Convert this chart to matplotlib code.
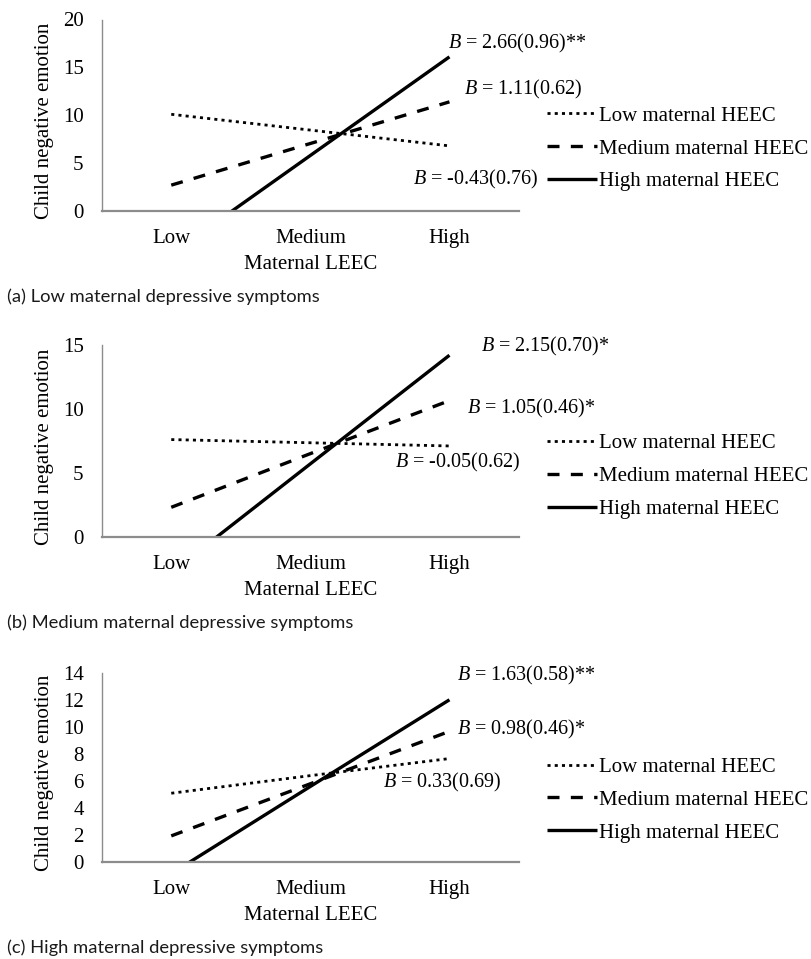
import matplotlib
matplotlib.use("Agg")
import matplotlib.pyplot as plt

plt.rcParams['font.family'] = ['Liberation Serif', 'DejaVu Serif']
plt.rcParams['mathtext.fontset'] = 'custom'
plt.rcParams['mathtext.rm'] = 'Liberation Serif'
plt.rcParams['mathtext.it'] = 'Liberation Serif:italic'

# ---- data ----
categories = ['Low', 'Medium', 'High']
series_labels = ['Low maternal HEEC', 'Medium maternal HEEC', 'High maternal HEEC']

low_heec_a = [10.1, 8.45, 6.8]
med_heec_a = [2.7, 7.05, 11.4]
high_heec_a = [-4.5, 5.8, 16.1]

low_heec_b = [7.6, 7.35, 7.1]
med_heec_b = [2.3, 6.5, 10.65]
high_heec_b = [-2.8, 5.7, 14.2]

low_heec_c = [5.1, 6.4, 7.66]
med_heec_c = [1.95, 5.8, 9.67]
high_heec_c = [-0.84, 5.6, 12.0]

slope_labels_a = ['-0.43(0.76)', '1.11(0.62)', '2.66(0.96)**']
slope_labels_b = ['-0.05(0.62)', '1.05(0.46)*', '2.15(0.70)*']
slope_labels_c = ['0.33(0.69)', '0.98(0.46)*', '1.63(0.58)**']

yticks_a = [0, 5, 10, 15, 20]
yticks_b = [0, 5, 10, 15]
yticks_c = [0, 2, 4, 6, 8, 10, 12, 14]

captions = ['(a) Low maternal depressive symptoms',
            '(b) Medium maternal depressive symptoms',
            '(c) High maternal depressive symptoms']

x_title = 'Maternal LEEC'
y_title = 'Child negative emotion'

# ---- layout ----
W, H = 811, 959
fig = plt.figure(figsize=(W / 100, H / 100), dpi=100)

left_px, right_px = 101.7, 519.0
panels = [
    dict(top=19.5, bottom=211.0, data=(low_heec_a, med_heec_a, high_heec_a),
         labels=slope_labels_a, yticks=yticks_a,
         lab_pos=[(0.746, 0.167), (0.868, 0.632), (0.830, 0.877)], leg_y=0.325),
    dict(top=345.0, bottom=536.7, data=(low_heec_b, med_heec_b, high_heec_b),
         labels=slope_labels_b, yticks=yticks_b,
         lab_pos=[(0.703, 0.388), (0.875, 0.670), (0.908, 0.991)], leg_y=0.315),
    dict(top=672.7, bottom=862.3, data=(low_heec_c, med_heec_c, high_heec_c),
         labels=slope_labels_c, yticks=yticks_c,
         lab_pos=[(0.673, 0.420), (0.851, 0.698), (0.851, 0.983)], leg_y=0.329),
]

styles = [
    dict(linestyle=(0, (1.1, 1.5)), linewidth=2.0),
    dict(linestyle=(0, (3.6, 3.4)), linewidth=2.4),
    dict(linestyle='-', linewidth=2.4),
]

xs = list(range(len(categories)))
axis_grey = '#8c8c8c'

for i, p in enumerate(panels):
    ax = fig.add_axes([left_px / W, 1 - p['bottom'] / H,
                       (right_px - left_px) / W, (p['bottom'] - p['top']) / H])
    handles = []
    for vals, st, lab in zip(p['data'], styles, series_labels):
        h, = ax.plot(xs, vals, color='black', solid_capstyle='butt',
                     dash_capstyle='butt', label=lab, **st)
        handles.append(h)
    ax.set_xlim(-0.5, len(categories) - 0.5)
    ax.set_ylim(0, p['yticks'][-1])
    ax.set_yticks(p['yticks'])
    ax.set_xticks(xs)
    ax.set_xticklabels(categories)
    for s in ['top', 'right']:
        ax.spines[s].set_visible(False)
    ax.spines['left'].set_color(axis_grey)
    ax.spines['left'].set_linewidth(1.0)
    ax.spines['bottom'].set_color(axis_grey)
    ax.spines['bottom'].set_linewidth(1.6)
    ax.tick_params(axis='y', length=0, pad=13, labelsize=15)
    ax.tick_params(axis='x', length=0, pad=13, labelsize=15)
    ax.set_xlabel(x_title, fontsize=15, labelpad=5)
    ax.set_ylabel(y_title, fontsize=15)
    ax.yaxis.set_label_coords(-0.115, 0.47)

    for (tx, ty), t in zip(p['lab_pos'], p['labels']):
        ax.text(tx, ty, r'$B$ = ' + t, transform=ax.transAxes,
                ha='left', va='center', fontsize=14.5)

    ax.legend(handles=handles, loc='center left',
              bbox_to_anchor=(1.066, p['leg_y']), frameon=False,
              fontsize=15, handlelength=2.4, handletextpad=0.1,
              labelspacing=0.64, borderpad=0, borderaxespad=0)

    fig.text(7 / W, 1 - (p['bottom'] + 85.7) / H, captions[i],
             ha='left', va='center', fontsize=13.2,
             family=['Lato', 'DejaVu Sans'], color='#1a1a1a')

fig.savefig('out.png', dpi=100)
